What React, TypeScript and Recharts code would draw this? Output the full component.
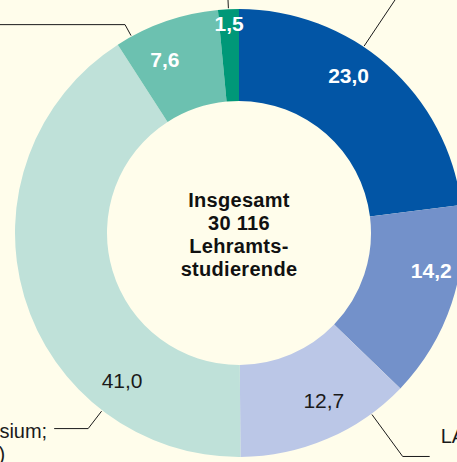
import { Cell, Pie, PieChart } from "recharts";

// Anteile der Lehramtsstudierenden (in %), im Uhrzeigersinn ab 12 Uhr
const categories = [
  "LA Sekundarstufe I",
  "LA Sonderpädagogik",
  "LA Grundschule",
  "LA Gymnasium",
  "LA Berufliche Schulen",
  "LA Sonstige",
];
const shares = [23.0, 14.2, 12.7, 41.0, 7.6, 1.5];
const totalLines = ["Insgesamt", "30 116", "Lehramts-", "studierende"];

const colors = ["#0255a5", "#7391ca", "#bbc7e7", "#bfe1d9", "#6cc1b0", "#009878"];
const lightSlices = [false, false, true, true, false, false];

// label placement per slice: shift (deg, counter-clockwise) and radius,
// plus optional leader line (shift, radial length, horizontal run) and outer text
const LABEL_LAYOUT = [
  { shift: 6.6, r: 192, leader: { shift: 7.6, len: 80, run: 0 } },
  { shift: 7.2, r: 196 },
  {
    shift: 3.6,
    r: 188,
    leader: { shift: 13, len: 52, run: 27 },
    text: [{ t: "LA Sek. I", dx: 11, dy: -13, anchor: "start" }],
  },
  {
    shift: 35,
    r: 188,
    leader: { shift: 35.8, len: 22, run: -34 },
    text: [
      { t: "LA Gymnasium;", dx: -7, dy: 9, anchor: "end" },
      { t: "(inkl. Sek. II)", dx: -49, dy: 32, anchor: "end" },
    ],
  },
  { shift: 4, r: 189, leader: { shift: 9.6, len: 12.5, run: -140 } },
  { shift: 0, r: 210, leader: { shift: 0, len: 14, run: 0 } },
];

const data = categories.map((name, i) => ({ name, value: shares[i] }));

const FONT = "'Liberation Sans', Arial, sans-serif";
const RAD = Math.PI / 180;

function polar(cx: number, cy: number, r: number, angle: number) {
  return { x: cx + r * Math.cos(-angle * RAD), y: cy + r * Math.sin(-angle * RAD) };
}

function formatShare(v: number) {
  return v.toFixed(1).replace(".", ",");
}

function renderLabel(props: any) {
  const { cx, cy, midAngle, outerRadius, index, value } = props;
  const lay: any = LABEL_LAYOUT[index];
  const p = polar(cx, cy, lay.r, midAngle + lay.shift);
  const light = lightSlices[index];
  let leader = null;
  let outer = null;
  if (lay.leader) {
    const a = midAngle + lay.leader.shift;
    const p0 = polar(cx, cy, outerRadius + 1, a);
    const p1 = polar(cx, cy, outerRadius + 1 + lay.leader.len, a);
    const p2 = { x: p1.x + lay.leader.run, y: p1.y };
    leader = (
      <polyline
        points={`${p0.x},${p0.y} ${p1.x},${p1.y} ${p2.x},${p2.y}`}
        fill="none"
        stroke="#1a1a1a"
        strokeWidth={1}
      />
    );
    if (lay.text) {
      outer = lay.text.map((line: any, k: number) => (
        <text
          key={k}
          x={p2.x + line.dx}
          y={p2.y + line.dy}
          textAnchor={line.anchor}
          fontFamily={FONT}
          fontSize={20}
          fill="#1a1a1a"
        >
          {line.t}
        </text>
      ));
    }
  }
  return (
    <g key={`lbl-${index}`}>
      {leader}
      {outer}
      <text
        x={p.x}
        y={p.y}
        textAnchor="middle"
        dominantBaseline="central"
        fontFamily={FONT}
        fontSize={21}
        fontWeight={light ? 400 : 700}
        fill={light ? "#1a1a1a" : "#ffffff"}
      >
        {formatShare(value)}
      </text>
    </g>
  );
}

export default function App() {
  return (
    <div
      style={{
        position: "absolute",
        left: 0,
        top: 0,
        width: 457,
        height: 462,
        background: "#fffdeb",
        overflow: "hidden",
      }}
    >
      <PieChart width={457} height={462} margin={{ top: 0, right: 0, bottom: 0, left: 0 }}>
        <Pie
          data={data}
          dataKey="value"
          nameKey="name"
          cx={239}
          cy={233}
          innerRadius={132}
          outerRadius={224}
          startAngle={90}
          endAngle={-270}
          stroke="none"
          label={renderLabel}
          labelLine={false}
          isAnimationActive={false}
        >
          {data.map((d, i) => (
            <Cell key={d.name} fill={colors[i]} />
          ))}
        </Pie>
        {totalLines.map((line, i) => (
          <text
            key={line}
            x={239}
            y={207 + i * 23}
            textAnchor="middle"
            fontFamily={FONT}
            fontSize={20}
            fontWeight={700}
            letterSpacing={0.3}
            fill="#111111"
          >
            {line}
          </text>
        ))}
      </PieChart>
    </div>
  );
}
